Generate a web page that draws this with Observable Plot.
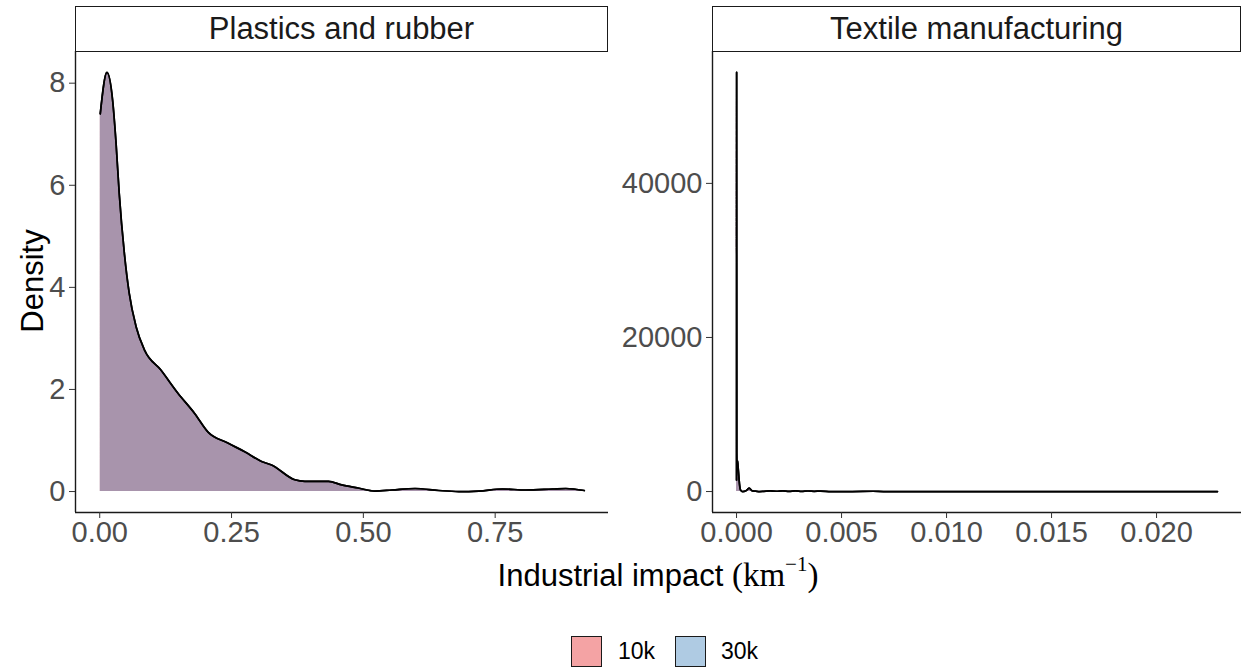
<!DOCTYPE html>
<html>
<head>
<meta charset="utf-8">
<script src="https://cdn.jsdelivr.net/npm/d3@7"></script>
<script src="https://cdn.jsdelivr.net/npm/@observablehq/plot@0.6"></script>
<style>
  html, body { margin: 0; padding: 0; background: white; }
  #wrap { position: relative; width: 1241px; height: 672px; overflow: hidden; font-family: "Liberation Sans", Arial, sans-serif; }
  .panel { position: absolute; top: 0; }
  .strip { position: absolute; box-sizing: border-box; border: 1.3px solid #1a1a1a; background: white;
           font-size: 31px; color: #1a1a1a; text-align: center; line-height: 44px; }
  #ytitle { position: absolute; left: 33px; top: 281px; transform: translate(-50%, -50%) rotate(-90deg);
            font-size: 31px; color: #000; white-space: nowrap; }
  #xtitle { position: absolute; left: 658px; top: 557px; transform: translateX(-50%); font-size: 31px; color: #000; white-space: nowrap; }
  #xtitle .m { font-family: "Liberation Serif", "Times New Roman", serif; font-size: 33px; }
  #xtitle sup { font-size: 21px; vertical-align: 15px; line-height: 0; }
  .lkey { position: absolute; top: 636px; width: 31px; height: 31px; box-sizing: border-box; border: 1.3px solid #1a1a1a; }
  .ltxt { position: absolute; top: 636px; font-size: 23px; line-height: 31px; color: #000; }
</style>
</head>
<body>
<div id="wrap"></div>
<script>
// ---- data ----
const series = ["10k", "30k"];
const seriesColors = ["#E41A1C", "#377EB8"];
const facets = ["Plastics and rubber", "Textile manufacturing"];

const plasticX = [0.001, 0.0137, 0.0245, 0.031, 0.037, 0.0467, 0.056, 0.069, 0.085, 0.116, 0.148, 0.18, 0.205, 0.243, 0.275, 0.307, 0.326, 0.37, 0.389, 0.434, 0.459, 0.49, 0.522, 0.554, 0.598, 0.643, 0.681, 0.719, 0.764, 0.808, 0.859, 0.884, 0.919];
const plasticY = [7.40, 8.21, 7.66, 6.82, 5.84, 4.67, 3.88, 3.23, 2.77, 2.38, 1.93, 1.53, 1.17, 0.95, 0.78, 0.59, 0.52, 0.23, 0.20, 0.20, 0.13, 0.07, 0.01, 0.03, 0.06, 0.02, 0.0, 0.01, 0.05, 0.03, 0.05, 0.06, 0.02];

const textileX = [0, 0.000004, 0.000012, 0.00003, 0.00005, 0.00007, 0.0001, 0.00014, 0.00019, 0.00029, 0.00045, 0.0006, 0.00075, 0.0009, 0.0011, 0.0013, 0.0016, 0.0019, 0.0022, 0.0025, 0.0028, 0.0031, 0.0034, 0.0037, 0.004, 0.0045, 0.0055, 0.0065, 0.007, 0.0075, 0.01, 0.015, 0.02, 0.0229];
const textileY = [1500, 54400, 5000, 3000, 4000, 3300, 2300, 1000, 200, 0, 100, 450, 80, 50, 0, 30, 80, 40, 90, 30, 80, 20, 70, 30, 60, 0, 0, 40, 0, 0, 0, 0, 0, 0];

const plasticXTicks = [0, 0.25, 0.5, 0.75];
const plasticYTicks = [0, 2, 4, 6, 8];
const textileXTicks = [0, 0.005, 0.01, 0.015, 0.02];
const textileYTicks = [0, 20000, 40000];

// ---- build tables ----
function table(xs, ys) {
  const out = [];
  for (const s of series) xs.forEach((x, i) => out.push({series: s, x, y: ys[i]}));
  return out;
}
const plasticData = table(plasticX, plasticY);
const textileData = table(textileX, textileY);

function expand(min, max) { const d = (max - min) * 0.05; return [min - d, max + d]; }

function panel(data, xTicks, yTicks, xFmt, yFmt, opts) {
  const xd = expand(0, d3.max(data, d => d.x));
  const yd = expand(0, d3.max(data, d => d.y));
  return Plot.plot({
    width: opts.width, height: 560,
    marginLeft: opts.marginLeft, marginRight: opts.marginRight, marginTop: 51, marginBottom: 48,
    style: {fontFamily: "'Liberation Sans', Arial, sans-serif", fontSize: "29px", color: "#4D4D4D", background: "transparent", overflow: "visible"},
    x: {domain: xd, label: null},
    y: {domain: yd, label: null},
    color: {domain: series, range: seriesColors},
    marks: [
      Plot.area(data, {x1: "x", y1: 0, y2: "y", z: "series", fill: "series", fillOpacity: 0.4, curve: "monotone-x"}),
      Plot.line(data, {x: "x", y: "y", z: "series", stroke: "black", strokeWidth: 1.7, curve: "monotone-x"}),
      Plot.ruleX([xd[0]], {stroke: "#1a1a1a", strokeWidth: 1.4}),
      Plot.ruleY([yd[0]], {stroke: "#1a1a1a", strokeWidth: 1.4}),
      Plot.axisX({ticks: xTicks, tickFormat: xFmt, tickSize: 6, tickPadding: 3, stroke: "#333333", fill: "#4D4D4D", fontSize: 29, label: null}),
      Plot.axisY({ticks: yTicks, tickFormat: yFmt, tickSize: 6, tickPadding: 4, stroke: "#333333", fill: "#4D4D4D", fontSize: 29, label: null})
    ]
  });
}

const wrap = document.getElementById("wrap");

const left = panel(plasticData, plasticXTicks, plasticYTicks, d3.format(".2f"), d3.format("d"), {width: 620, marginLeft: 75, marginRight: 12});
left.classList.add("panel"); left.style.left = "0px";
wrap.appendChild(left);

const right = panel(textileData, textileXTicks, textileYTicks, d3.format(".3f"), d3.format("d"), {width: 621, marginLeft: 92, marginRight: 0});
right.classList.add("panel"); right.style.left = "620px";
wrap.appendChild(right);

// strips
const strips = [{left: 75, width: 533}, {left: 712, width: 529}];
facets.forEach((f, i) => {
  const d = document.createElement("div");
  d.className = "strip";
  d.style.left = strips[i].left + "px"; d.style.top = "6px";
  d.style.width = strips[i].width + "px"; d.style.height = "46px";
  d.textContent = f;
  wrap.appendChild(d);
});

// axis titles
const yt = document.createElement("div"); yt.id = "ytitle"; yt.textContent = "Density"; wrap.appendChild(yt);
const xt = document.createElement("div"); xt.id = "xtitle";
xt.innerHTML = 'Industrial impact <span class="m">(km<sup>\u22121</sup>)</span>';
wrap.appendChild(xt);

// legend
const legendPos = [{box: 571, text: 618}, {box: 675, text: 721}];
const legendFill = ["#F4A3A4", "#AFCBE3"];
series.forEach((s, i) => {
  const b = document.createElement("div"); b.className = "lkey";
  b.style.left = legendPos[i].box + "px"; b.style.background = legendFill[i];
  wrap.appendChild(b);
  const t = document.createElement("div"); t.className = "ltxt";
  t.style.left = legendPos[i].text + "px"; t.textContent = s;
  wrap.appendChild(t);
});
</script>
</body>
</html>
